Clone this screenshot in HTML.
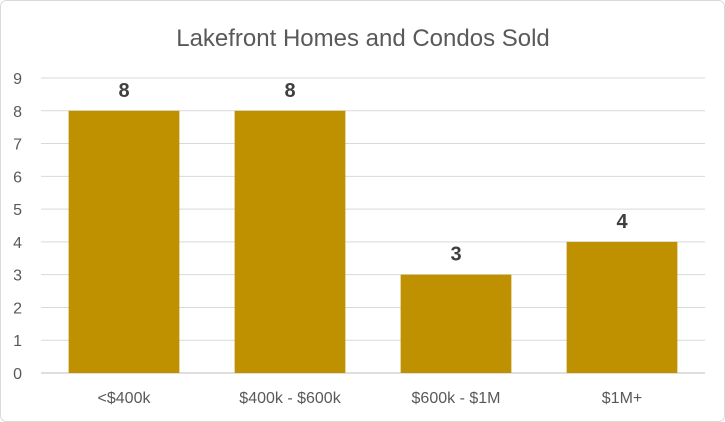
<!DOCTYPE html>
<html><head><meta charset="utf-8"><style>
html,body{margin:0;padding:0;background:#fff;}
svg{display:block;font-family:"Liberation Sans",Calibri,sans-serif;}
</style></head><body>
<svg id="chart" width="725" height="422">
<rect x="0.5" y="0.5" width="724" height="421" rx="6" fill="#fff" stroke="#d9d9d9"/>
<text x="363" y="46" text-anchor="middle" font-size="24" fill="#595959">Lakefront Homes and Condos Sold</text>
<g id="grid"></g><g id="bars"></g><g id="labels"></g>
</svg>
<script>
const categories = ["<$400k", "$400k - $600k", "$600k - $1M", "$1M+"];
const values = [8, 8, 3, 4];
const yTicks = [0,1,2,3,4,5,6,7,8,9];
const ns="http://www.w3.org/2000/svg";
const x0=41,x1=705,y0=373,yTop=78,yMax=9;
const y=v=>y0-(y0-yTop)*v/yMax;
const band=(x1-x0)/categories.length, bw=band*0.667;
const grid=document.getElementById('grid'),bars=document.getElementById('bars'),labels=document.getElementById('labels');
function mk(tag,attrs,parent,text){const e=document.createElementNS(ns,tag);for(const k in attrs)e.setAttribute(k,attrs[k]);if(text!==undefined)e.textContent=text;parent.appendChild(e);return e;}
yTicks.forEach(t=>{
  const l=mk('line',{x1:x0,x2:x1,y1:y(t),y2:y(t),stroke:t===0?'#bfbfbf':'#d9d9d9','stroke-width':1},grid);
  
  
  const tx=mk('text',{x:22,y:y(t)+6,'text-anchor':'end','font-size':16,fill:'#595959'},grid,String(t));
  
  
});
categories.forEach((c,i)=>{
  const cx=x0+band*(i+0.5);
  const r=mk('rect',{x:cx-bw/2,y:y(values[i]),width:bw,height:y0-y(values[i]),fill:'#bf9000'},bars);
  
  
  const v=mk('text',{x:cx,y:y(values[i])-14,'text-anchor':'middle','font-size':20,'font-weight':'bold',fill:'#404040'},labels,String(values[i]));
  
  
  const t=mk('text',{x:cx,y:y0+30,'text-anchor':'middle','font-size':16,fill:'#595959'},labels,c);
  
  
});
</script>
</body></html>
